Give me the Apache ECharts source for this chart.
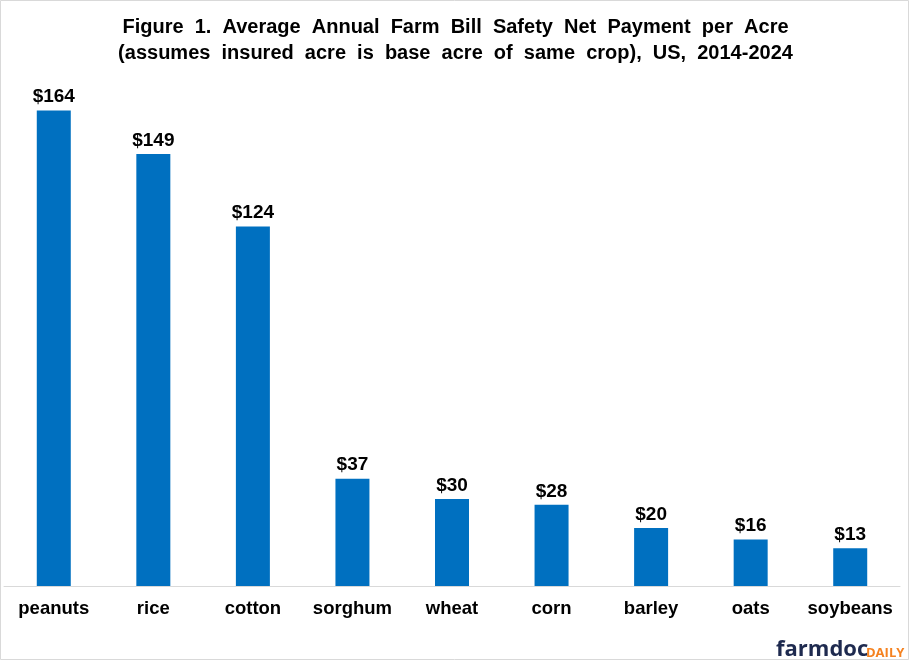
<!DOCTYPE html>
<html>
<head>
<meta charset="utf-8">
<script src="https://cdn.jsdelivr.net/npm/echarts@6/dist/echarts.min.js"></script>
<style>
  html, body { margin: 0; padding: 0; background: #fff; }
  #main { width: 911px; height: 662px; }
</style>
</head>
<body>
<div id="main"></div>
<script>
var crops = ['peanuts', 'rice', 'cotton', 'sorghum', 'wheat', 'corn', 'barley', 'oats', 'soybeans'];
var payments = [164, 149, 124, 37, 30, 28, 20, 16, 13];

var titleLines = [
  'Figure  1.  Average  Annual  Farm  Bill  Safety  Net  Payment  per  Acre',
  '(assumes  insured  acre  is  base  acre  of  same  crop),  US,  2014-2024'
];

var chart = echarts.init(document.getElementById('main'), null, { renderer: 'canvas' });

var option = {
  backgroundColor: '#ffffff',
  animation: false,
  title: {
    text: titleLines.join('\n'),
    left: 'center',
    top: 9,
    textStyle: {
      fontFamily: 'Liberation Sans, Arial, sans-serif',
      fontSize: 20,
      fontWeight: 'bold',
      color: '#000',
      lineHeight: 26
    }
  },
  grid: {
    left: 4,
    right: 11,
    top: 64,
    bottom: 76,
    containLabel: false
  },
  xAxis: {
    type: 'category',
    data: crops,
    axisLine: { lineStyle: { color: '#d9d9d9', width: 1 } },
    axisTick: { show: false },
    axisLabel: {
      color: '#000',
      fontFamily: 'Liberation Sans, Arial, sans-serif',
      fontSize: 18.5,
      fontWeight: 'bold',
      margin: 13,
      interval: 0
    }
  },
  yAxis: {
    type: 'value',
    min: 0,
    max: 180,
    show: false,
    splitLine: { show: false }
  },
  series: [{
    type: 'bar',
    data: payments,
    barWidth: 34,
    itemStyle: { color: '#0070c0' },
    label: {
      show: true,
      position: 'top',
      distance: 4,
      formatter: function (p) { return '$' + p.value; },
      color: '#000',
      fontFamily: 'Liberation Sans, Arial, sans-serif',
      fontSize: 19,
      fontWeight: 'bold'
    }
  }],
  graphic: [
    {
      type: 'rect',
      shape: { x: 0.5, y: 0.5, width: 908, height: 659 },
      style: { fill: 'none', stroke: '#d9d9d9', lineWidth: 1 },
      silent: true
    },
    {
      type: 'text',
      left: 776,
      top: 639,
      style: {
        text: 'farmdoc',
        fill: '#1e2a4f',
        font: 'bold 22px "Open Sans", "Liberation Sans", sans-serif'
      }
    },
    {
      type: 'text',
      left: 866,
      top: 647,
      style: {
        text: 'DAILY',
        fill: '#f58220',
        font: 'bold 13px "Open Sans", "Liberation Sans", sans-serif'
      }
    }
  ]
};

chart.setOption(option);
</script>
</body>
</html>
